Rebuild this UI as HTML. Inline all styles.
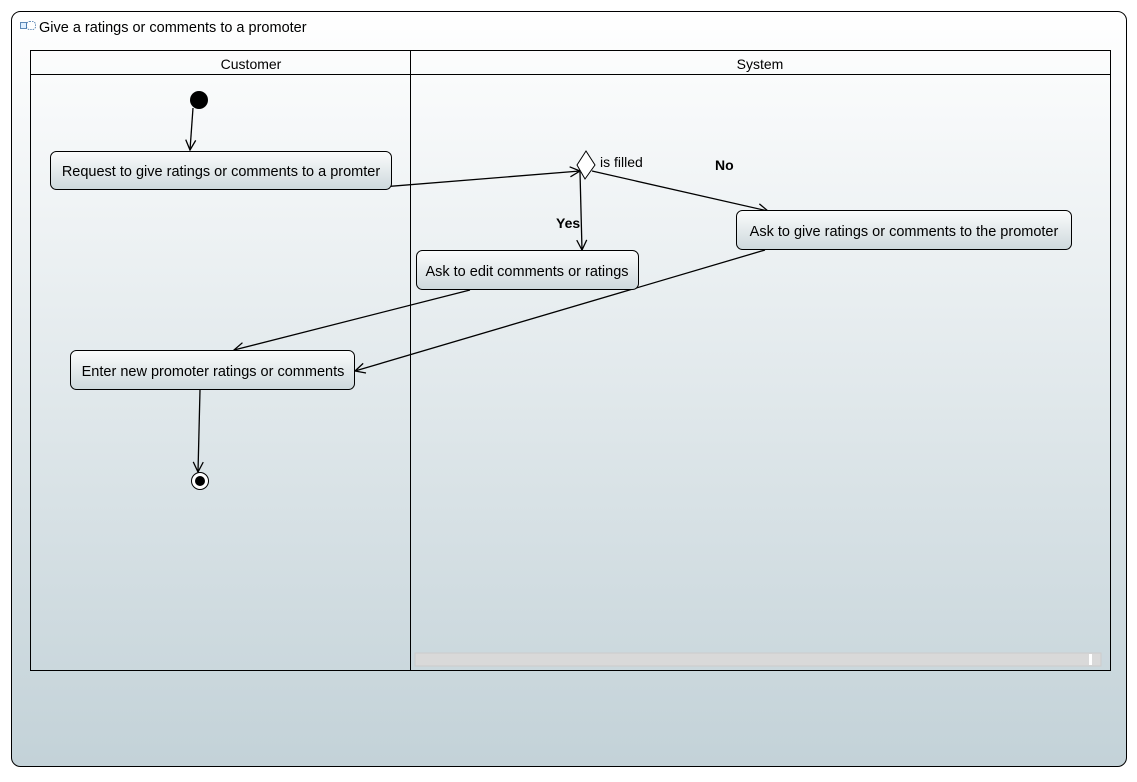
<!DOCTYPE html>
<html><head><meta charset="utf-8"><style>
body{margin:0;width:1137px;height:777px;background:#fff;overflow:hidden;font-family:"Liberation Sans",sans-serif}
</style></head><body>
<svg width="1137" height="777" xmlns="http://www.w3.org/2000/svg" font-family="Liberation Sans, sans-serif">
<defs>
<linearGradient id="bg" x1="0" y1="0" x2="0" y2="1"><stop offset="0" stop-color="#ffffff"/><stop offset="1" stop-color="#c3d2d8"/></linearGradient>
<linearGradient id="nd" x1="0" y1="0" x2="0" y2="1"><stop offset="0" stop-color="#fbfcfc"/><stop offset="1" stop-color="#cdd8dc"/></linearGradient>
<marker id="a" markerWidth="14" markerHeight="14" refX="11" refY="6" orient="auto" markerUnits="userSpaceOnUse"><path d="M1,1 L11,6 L1,11" fill="none" stroke="#000" stroke-width="1.3"/></marker>
</defs>
<rect x="11.5" y="11.5" width="1115" height="755" rx="9" fill="url(#bg)" stroke="#000"/>
<g transform="translate(20,20)"><rect x="0.5" y="2.5" width="6" height="6" fill="#dfefff" stroke="#3a6ea5" stroke-width="0.8"/><rect x="6.5" y="1.5" width="9" height="8" rx="3" fill="none" stroke="#3a6ea5" stroke-width="0.8" stroke-dasharray="1.5 1"/></g>
<text x="39" y="32" font-size="14.5">Give a ratings or comments to a promoter</text>
<rect x="30.5" y="50.5" width="1080" height="620" fill="none" stroke="#000"/>
<line x1="30" y1="74.5" x2="1110" y2="74.5" stroke="#000"/>
<line x1="410.5" y1="50" x2="410.5" y2="670" stroke="#000"/>
<text x="251" y="69" font-size="14" text-anchor="middle">Customer</text>
<text x="760" y="69" font-size="14" text-anchor="middle">System</text>
<rect x="415" y="653" width="686" height="13" fill="#d9d9d9" stroke="#ccc"/>
<rect x="1089" y="654" width="3" height="11" fill="#fff"/>
<circle cx="199" cy="100" r="9"/>
<circle cx="200" cy="481" r="8.5" fill="#fff" stroke="#000"/>
<circle cx="200" cy="481" r="5"/>
<g stroke="#000" stroke-width="1.3" fill="none">
<line x1="193" y1="108" x2="190" y2="150" marker-end="url(#a)"/>
<line x1="357" y1="189" x2="580" y2="171" marker-end="url(#a)"/>
<line x1="592" y1="171" x2="768" y2="211" marker-end="url(#a)"/>
<line x1="580" y1="172" x2="582" y2="250" marker-end="url(#a)"/>
<line x1="470" y1="290" x2="234" y2="350" marker-end="url(#a)"/>
<line x1="765" y1="250" x2="355" y2="371" marker-end="url(#a)"/>
<line x1="200" y1="390" x2="198" y2="472" marker-end="url(#a)"/>
</g>
<polygon points="586,151 595,165 585,179 577,165" fill="#fff" stroke="#000"/>
<text x="600" y="167" font-size="14">is filled</text>
<text x="715" y="170" font-size="14" font-weight="bold">No</text>
<text x="556" y="228" font-size="14" font-weight="bold">Yes</text>
<g stroke="#000" fill="url(#nd)">
<rect x="50.5" y="151.5" width="341" height="38" rx="6"/>
<rect x="736.5" y="210.5" width="335" height="39" rx="6"/>
<rect x="416.5" y="250.5" width="222" height="39" rx="6"/>
<rect x="70.5" y="350.5" width="284" height="39" rx="6"/>
</g>
<g font-size="14.5" text-anchor="middle">
<text x="221" y="176">Request to give ratings or comments to a promter</text>
<text x="904" y="236">Ask to give ratings or comments to the promoter</text>
<text x="527" y="276">Ask to edit comments or ratings</text>
<text x="213" y="376">Enter new promoter ratings or comments</text>
</g>
</svg>
</body></html>
